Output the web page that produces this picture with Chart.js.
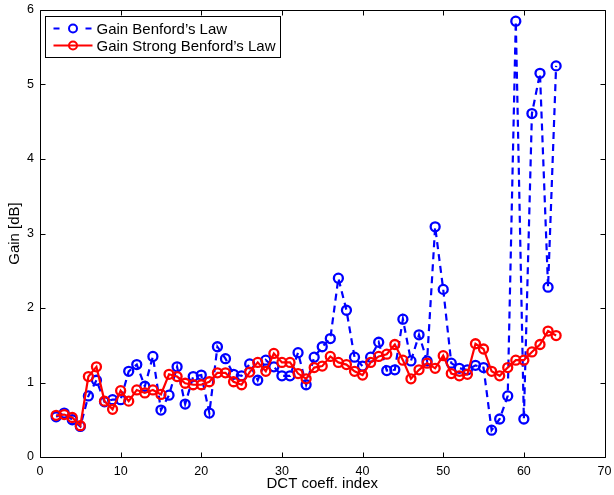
<!DOCTYPE html>
<html>
<head>
<meta charset="utf-8">
<script src="https://cdn.jsdelivr.net/npm/chart.js@4"></script>
<style>
html,body{margin:0;padding:0;background:#fff;}
#wrap{width:614px;height:495px;}
</style>
</head>
<body>
<div id="wrap"><canvas id="c" width="614" height="495"></canvas></div>
<script>
const xIndex = [2,3,4,5,6,7,8,9,10,11,12,13,14,15,16,17,18,19,20,21,22,23,24,25,26,27,28,29,30,31,32,33,34,35,36,37,38,39,40,41,42,43,44,45,46,47,48,49,50,51,52,53,54,55,56,57,58,59,60,61,62,63,64];
const gainBenford = [0.54,0.59,0.50,0.41,0.82,1.03,0.74,0.77,0.77,1.15,1.24,0.95,1.35,0.63,0.83,1.21,0.71,1.08,1.10,0.59,1.48,1.32,1.11,1.09,1.25,1.03,1.30,1.21,1.09,1.09,1.40,0.97,1.34,1.48,1.59,2.40,1.97,1.34,1.22,1.34,1.54,1.16,1.17,1.85,1.29,1.64,1.29,3.09,2.25,1.26,1.19,1.17,1.23,1.20,0.36,0.51,0.82,5.85,0.51,4.61,5.15,2.28,5.25];
const gainStrong = [0.56,0.57,0.53,0.42,1.08,1.21,0.75,0.64,0.89,0.75,0.90,0.86,0.90,0.84,1.11,1.08,0.99,0.97,0.97,1.01,1.13,1.13,1.01,0.97,1.14,1.27,1.15,1.39,1.27,1.27,1.12,1.05,1.20,1.22,1.35,1.27,1.24,1.15,1.10,1.27,1.35,1.38,1.51,1.30,1.05,1.17,1.26,1.19,1.36,1.12,1.09,1.11,1.52,1.45,1.15,1.09,1.20,1.30,1.30,1.41,1.51,1.69,1.63];
const xTicks = [0,10,20,30,40,50,60,70];
const yTicks = [0,1,2,3,4,5,6];
const seriesLabels = ["Gain Benford\u2019s Law","Gain Strong Benford\u2019s Law"];

const FONT = "'Liberation Sans', Arial, Helvetica, sans-serif";

const boxPlugin = {
  id: 'boxPlugin',
  afterDraw(chart) {
    const ctx = chart.ctx, a = chart.chartArea;
    const xs = chart.scales.x, ys = chart.scales.y;
    ctx.save();
    ctx.strokeStyle = '#000';
    ctx.lineWidth = 1;
    ctx.beginPath();
    const L = Math.round(a.left)+0.5, R = Math.round(a.right)+0.5, T = Math.round(a.top)+0.5, B = Math.round(a.bottom)+0.5;
    ctx.rect(L, T, R-L, B-T);
    const tl = 5;
    xTicks.forEach(v => {
      const p = Math.round(xs.getPixelForValue(v))+0.5;
      ctx.moveTo(p, B); ctx.lineTo(p, B - tl);
      ctx.moveTo(p, T); ctx.lineTo(p, T + tl);
    });
    yTicks.forEach(v => {
      const p = Math.round(ys.getPixelForValue(v))+0.5;
      ctx.moveTo(L, p); ctx.lineTo(L + tl, p);
      ctx.moveTo(R, p); ctx.lineTo(R - tl, p);
    });
    ctx.stroke();
    // legend
    const lx = L + 5, ly = T + 6, lw = 235, lh = 41;
    ctx.fillStyle = '#fff';
    ctx.fillRect(lx, ly, lw, lh);
    ctx.strokeRect(lx, ly, lw, lh);
    const dsets = chart.data.datasets;
    const rows = [ly + 12, ly + 29];
    dsets.forEach((ds, i) => {
      const y = rows[i];
      ctx.strokeStyle = ds.borderColor;
      ctx.lineWidth = 2;
      ctx.beginPath();
      if (ds.borderDash && ds.borderDash.length) {
        ctx.moveTo(lx + 8, y); ctx.lineTo(lx + 14, y);
        ctx.moveTo(lx + 40, y); ctx.lineTo(lx + 46, y);
      } else {
        ctx.moveTo(lx + 8, y); ctx.lineTo(lx + 47, y);
      }
      ctx.stroke();
      ctx.beginPath();
      ctx.arc(lx + 27.5, y, 4, 0, Math.PI*2);
      ctx.stroke();
      ctx.fillStyle = '#000';
      ctx.font = '15px ' + FONT;
      ctx.textBaseline = 'middle';
      ctx.textAlign = 'left';
      ctx.fillText(ds.label, lx + 51, y + 1);
    });
    ctx.restore();
  }
};

new Chart(document.getElementById('c'), {
  type: 'line',
  data: {
    labels: xIndex,
    datasets: [
      {
        label: seriesLabels[0],
        data: xIndex.map((x, i) => ({x: x, y: gainBenford[i]})),
        borderColor: '#0000ff',
        backgroundColor: 'rgba(0,0,0,0)',
        borderWidth: 2.2,
        borderDash: [7, 5],
        pointStyle: 'circle',
        pointRadius: 4.5,
        pointBorderWidth: 2.3,
        pointBorderColor: '#0000ff',
        pointBackgroundColor: 'rgba(0,0,0,0)',
        tension: 0,
        order: 2
      },
      {
        label: seriesLabels[1],
        data: xIndex.map((x, i) => ({x: x, y: gainStrong[i]})),
        borderColor: '#ff0000',
        backgroundColor: 'rgba(0,0,0,0)',
        borderWidth: 2.2,
        pointStyle: 'circle',
        pointRadius: 4.5,
        pointBorderWidth: 2.3,
        pointBorderColor: '#ff0000',
        pointBackgroundColor: 'rgba(0,0,0,0)',
        tension: 0,
        order: 1
      }
    ]
  },
  options: {
    responsive: false,
    animation: false,
    events: [],
    layout: { autoPadding: false, padding: { top: 10, right: 9.5, left: 0, bottom: 0 } },
    plugins: { legend: { display: false }, tooltip: { enabled: false } },
    scales: {
      x: {
        type: 'linear', min: 0, max: 70,
        afterBuildTicks(s) { s.ticks = xTicks.map(v => ({value: v})); },
        afterFit(s) { s.height = 38; s.paddingLeft = 0; s.paddingRight = 0; },
        grid: { display: false, drawTicks: false },
        border: { display: false },
        ticks: { color: '#000', font: { family: FONT, size: 12.5 }, padding: 7, maxRotation: 0 },
        title: { display: true, text: 'DCT coeff. index', color: '#000', font: { family: FONT, size: 15 }, padding: { top: 0, bottom: 2 } }
      },
      y: {
        type: 'linear', min: 0, max: 6,
        afterBuildTicks(s) { s.ticks = yTicks.map(v => ({value: v})); },
        afterFit(s) { s.width = 40; s.paddingTop = 0; s.paddingBottom = 0; },
        grid: { display: false, drawTicks: false },
        border: { display: false },
        ticks: { color: '#000', font: { family: FONT, size: 12.5 }, padding: 6 },
        title: { display: true, text: 'Gain [dB]', color: '#000', font: { family: FONT, size: 15 }, padding: { top: 6, bottom: 0 } }
      }
    }
  },
  plugins: [boxPlugin]
});
</script>
</body>
</html>
